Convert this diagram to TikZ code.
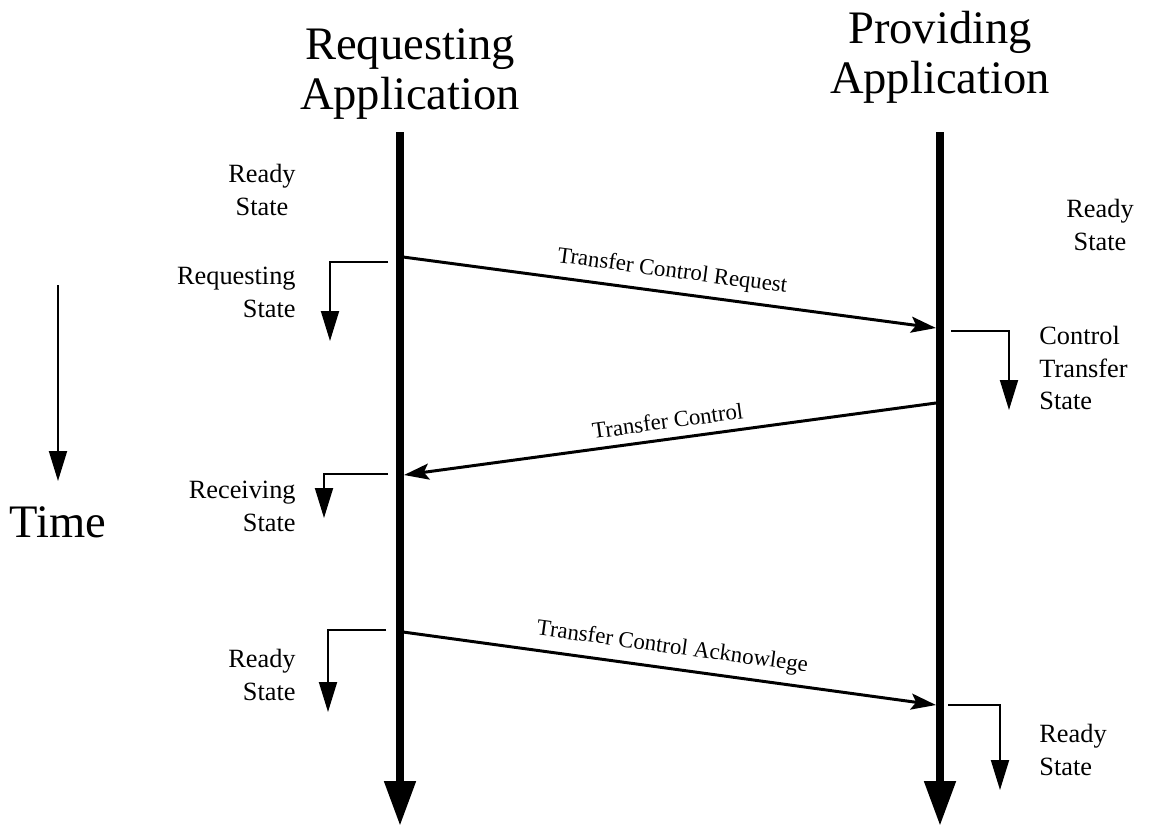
\documentclass[tikz,border=0pt]{standalone}
\usepackage{fontspec}
\setmainfont{Liberation Serif}
\usepackage{tikz}
\usetikzlibrary{arrows.meta, positioning, calc}

\begin{document}
\begin{tikzpicture}[
  x=0.02cm, y=-0.02cm,
  headlbl/.style={font=\fontsize{26.5}{28.5}\selectfont, align=center, inner sep=0pt},
  statelbl/.style={font=\fontsize{15}{18.7}\selectfont, inner sep=0pt},
  msglbl/.style={font=\fontsize{13}{15}\selectfont, sloped, above=4pt, inner sep=1pt},
  lifeline/.style={line width=0.16cm, -{Triangle[length=0.9cm, width=0.6cm]}},
  msgarrow/.style={line width=1.7pt, -{Stealth[length=0.5cm, width=0.32cm, inset=0.1cm]}},
  statearrow/.style={line width=1.1pt, -{Triangle[length=0.6cm, width=0.36cm]}}
]
  \useasboundingbox (0,0) rectangle (1150,826);

  % headers
  \node[headlbl] (reqapp) at (410, 74) {Requesting\\Application};
  \node[headlbl] (provapp) at (940, 57) {Providing\\Application};
  \node[headlbl] (time) at (58, 522) {Time};

  % life lines
  \coordinate (reqtop) at (400, 132);
  \coordinate (reqbot) at (400, 826);
  \coordinate (provtop) at (940, 132);
  \coordinate (provbot) at (940, 826);
  \draw[lifeline] (reqtop) -- (reqbot);
  \draw[lifeline] (provtop) -- (provbot);

  % time axis
  \coordinate (timetop) at (58, 285);
  \coordinate (timebot) at (58, 481);
  \draw[statearrow] (timetop) -- (timebot);

  % messages
  \coordinate (m1a) at (403, 257);
  \coordinate (m1b) at (936, 328);
  \coordinate (m2a) at (936, 403);
  \coordinate (m2b) at (404, 475);
  \coordinate (m3a) at (403, 632);
  \coordinate (m3b) at (936, 705);
  \draw[msgarrow] (m1a) -- node[msglbl] {Transfer Control Request} (m1b);
  \draw[msgarrow] (m2a) -- node[msglbl] {Transfer Control} (m2b);
  \draw[msgarrow] (m3a) -- node[msglbl] {Transfer Control Acknowlege} (m3b);

  % state changes
  \coordinate (rq0) at (388, 262);
  \coordinate (rq1) at (330, 341);
  \coordinate (rc0) at (388, 474);
  \coordinate (rc1) at (324, 518);
  \coordinate (rd0) at (386, 630);
  \coordinate (rd1) at (328, 712);
  \coordinate (ct0) at (951, 331);
  \coordinate (ct1) at (1009, 410);
  \coordinate (pd0) at (948, 705);
  \coordinate (pd1) at (1000, 790);
  \draw[statearrow] (rq0) -| (rq1);
  \draw[statearrow] (rc0) -| (rc1);
  \draw[statearrow] (rd0) -| (rd1);
  \draw[statearrow] (ct0) -| (ct1);
  \draw[statearrow] (pd0) -| (pd1);

  % state labels
  \node[statelbl, align=center] (reqready) at (262, 190) {Ready\\State};
  \node[statelbl, align=right, anchor=east] (reqreq) at (296, 292) {Requesting\\State};
  \node[statelbl, align=right, anchor=east] (reqrecv) at (296, 506) {Receiving\\State};
  \node[statelbl, align=right, anchor=east] (reqdone) at (296, 675) {Ready\\State};
  \node[statelbl, align=center] (provready) at (1100, 225) {Ready\\State};
  \node[statelbl, align=left, anchor=west] (provctl) at (1039, 368) {Control\\Transfer\\State};
  \node[statelbl, align=left, anchor=west] (provdone) at (1039, 750) {Ready\\State};
\end{tikzpicture}
\end{document}
